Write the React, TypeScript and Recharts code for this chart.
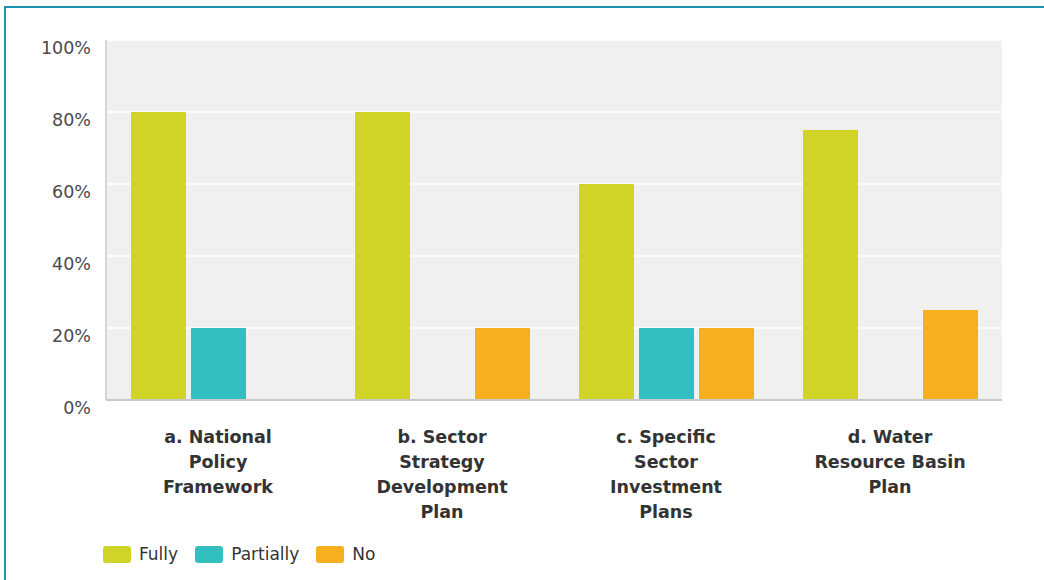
import React from "react";
import { BarChart, Bar, XAxis, YAxis, CartesianGrid, Legend } from "recharts";

const categories = [
  "a. National\nPolicy\nFramework",
  "b. Sector\nStrategy\nDevelopment\nPlan",
  "c. Specific\nSector\nInvestment\nPlans",
  "d. Water\nResource Basin\nPlan",
];
const fully = [80, 80, 60, 75];
const partially = [20, 0, 20, 0];
const no = [0, 20, 20, 25];
const yTicks = [0, 20, 40, 60, 80, 100];

const seriesNames = ["Fully", "Partially", "No"];
const seriesKeys = ["fully", "partially", "no"];
const seriesColors = ["#cfd427", "#33bfbf", "#f6af1f"];

const data = categories.map((c, i) => ({
  category: c,
  fully: fully[i],
  partially: partially[i],
  no: no[i],
}));

const FONT = "'DejaVu Sans', Verdana, sans-serif";

const XTick = (props: any) => {
  const { x, y, payload } = props;
  const lines = String(payload.value).split("\n");
  return (
    <g>
      {lines.map((ln: string, i: number) => (
        <text
          key={i}
          x={x}
          y={y + 43 + i * 25}
          textAnchor="middle"
          fontFamily={FONT}
          fontWeight="bold"
          fontSize={17.5}
          fill="#333"
        >
          {ln}
        </text>
      ))}
    </g>
  );
};

const YTick = (props: any) => {
  const { x, y, payload } = props;
  return (
    <text
      x={x}
      y={y + 8}
      textAnchor="end"
      dominantBaseline="central"
      fontFamily={FONT}
      fontSize={17.5}
      fill="#4a4a4a"
    >
      {`${payload.value}%`}
    </text>
  );
};

const LegendContent = () => (
  <div style={{ display: "flex", alignItems: "center", fontFamily: FONT, fontSize: 17, color: "#333" }}>
    {seriesNames.map((n, i) => (
      <div key={n} style={{ display: "flex", alignItems: "center", marginRight: 17 }}>
        <div
          style={{
            width: 28,
            height: 17,
            borderRadius: 3,
            background: seriesColors[i],
            marginRight: 8,
          }}
        />
        <span>{n}</span>
      </div>
    ))}
  </div>
);

export default function App() {
  return (
    <div
      style={{
        position: "fixed",
        left: 0,
        top: 0,
        width: 1044,
        height: 580,
        overflow: "hidden",
        background: "#fff",
      }}
    >
      <div style={{ position: "absolute", left: 4, top: 6, width: 1100, height: 2, background: "#1f93ab" }} />
      <div style={{ position: "absolute", left: 4, top: 6, width: 2, height: 600, background: "#1f93ab" }} />
      <div style={{ position: "absolute", left: 0, top: 0 }}>
        <BarChart
          width={1044}
          height={580}
          data={data}
          margin={{ top: 40, right: 42, left: 0, bottom: 60 }}
          barSize={55}
          barGap={5}
        >
          <CartesianGrid fill="#f0f0f0" stroke="#ffffff" strokeWidth={1.5} vertical={false} />
          <XAxis
            dataKey="category"
            height={120}
            tickSize={0}
            tickMargin={0}
            tickLine={false}
            axisLine={{ stroke: "#c8c8c8", strokeWidth: 2 }}
            tick={<XTick />}
            interval={0}
          />
          <YAxis
            width={106}
            domain={[0, 100]}
            ticks={yTicks}
            interval={0}
            tickSize={0}
            tickMargin={15}
            tickLine={false}
            axisLine={{ stroke: "#d6d6d6", strokeWidth: 2 }}
            tick={<YTick />}
          />
          <Legend
            layout="horizontal"
            verticalAlign="middle"
            align="center"
            content={<LegendContent />}
            wrapperStyle={{ position: "absolute", left: 103, top: 544, width: 400, height: 17 }}
          />
          {seriesKeys.map((k, i) => (
            <Bar
              key={k}
              dataKey={k}
              name={seriesNames[i]}
              fill={seriesColors[i]}
              isAnimationActive={false}
            />
          ))}
        </BarChart>
      </div>
    </div>
  );
}
